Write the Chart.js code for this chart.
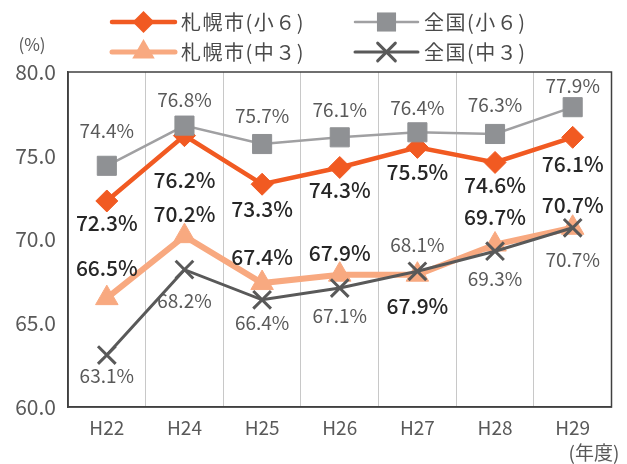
<!DOCTYPE html>
<html>
<head>
<meta charset="utf-8">
<script src="https://cdn.jsdelivr.net/npm/chart.js"></script>
<style>
  html, body { margin: 0; padding: 0; background: #fff; }
  #wrap { width: 627px; height: 464px; position: relative; }
</style>
</head>
<body>
<div id="wrap"><canvas id="chart"></canvas></div>
<script>
const years = ['H22', 'H24', 'H25', 'H26', 'H27', 'H28', 'H29'];
const sapporoShou6 = [72.3, 76.2, 73.3, 74.3, 75.5, 74.6, 76.1];
const zenkokuShou6 = [74.4, 76.8, 75.7, 76.1, 76.4, 76.3, 77.9];
const sapporoChu3 = [66.5, 70.2, 67.4, 67.9, 67.9, 69.7, 70.7];
const zenkokuChu3 = [63.1, 68.2, 66.4, 67.1, 68.1, 69.3, 70.7];

const FONT = "'Noto Sans CJK JP', 'Noto Sans', sans-serif";

// marker drawing for legend (same shapes as the chart)
function drawMarker(ctx, style, x, y, r, color, lw) {
    ctx.save();
    ctx.fillStyle = color;
    ctx.strokeStyle = color;
    ctx.lineWidth = lw;
    ctx.beginPath();
    if (style === 'rectRot') {
        ctx.moveTo(x, y - r); ctx.lineTo(x + r, y); ctx.lineTo(x, y + r); ctx.lineTo(x - r, y);
        ctx.closePath(); ctx.fill();
    } else if (style === 'rect') {
        const s = r * Math.SQRT1_2;
        ctx.rect(x - s, y - s, 2 * s, 2 * s); ctx.fill();
    } else if (style === 'triangle') {
        for (let k = 0; k < 3; k++) {
            const a = k * 2 * Math.PI / 3;
            const px = x + Math.sin(a) * r, py = y - Math.cos(a) * r;
            k === 0 ? ctx.moveTo(px, py) : ctx.lineTo(px, py);
        }
        ctx.closePath(); ctx.fill();
    } else if (style === 'crossRot') {
        const d = r * Math.SQRT1_2;
        ctx.moveTo(x - d, y - d); ctx.lineTo(x + d, y + d);
        ctx.moveTo(x - d, y + d); ctx.lineTo(x + d, y - d);
        ctx.stroke();
    }
    ctx.restore();
}

// legend in a 2x2 grid, axis captions and the outer frame
const decorations = {
    id: 'decorations',
    afterDraw(chart) {
        const ctx = chart.ctx;
        const area = chart.chartArea;
        ctx.save();
        ctx.strokeStyle = '#404040';
        ctx.lineWidth = 1.5;
        ctx.strokeRect(area.left, area.top, area.right - area.left, area.bottom - area.top);

        ctx.fillStyle = '#595959';
        ctx.font = '17px ' + FONT;
        ctx.textAlign = 'center';
        ctx.textBaseline = 'middle';
        ctx.fillText('(%)', 32, 45);
        ctx.font = '19px ' + FONT;
        ctx.fillText('(年度)', 594, 453);

        const cols = [112, 355];
        const rows = [22, 52];
        chart.data.datasets.forEach((ds, i) => {
            const x0 = cols[i % 2], y = rows[Math.floor(i / 2)];
            const x1 = x0 + 63;
            ctx.strokeStyle = ds.borderColor;
            ctx.lineWidth = Math.min(ds.borderWidth, 5);
            ctx.lineCap = 'round';
            ctx.beginPath(); ctx.moveTo(x0, y); ctx.lineTo(x1, y); ctx.stroke();
            drawMarker(ctx, ds.pointStyle, (x0 + x1) / 2, y, ds.pointRadius, ds.pointBackgroundColor, ds.pointBorderWidth);
            ctx.fillStyle = '#4a4a4a';
            ctx.font = '20px ' + FONT;
            ctx.letterSpacing = '1.5px';
            ctx.textAlign = 'left';
            ctx.fillText(ds.label, x1 + 6, y);
            ctx.letterSpacing = '0px';
        });
        ctx.restore();
    }
};

// value labels with per-point vertical nudges
const valueLabels = {
    id: 'valueLabels',
    afterDatasetsDraw(chart) {
        const ctx = chart.ctx;
        ctx.save();
        ctx.textAlign = 'center';
        ctx.textBaseline = 'middle';
        chart.data.datasets.forEach((ds, i) => {
            const meta = chart.getDatasetMeta(i);
            ctx.font = ds.labelFont;
            ctx.fillStyle = ds.labelColor;
            meta.data.forEach((pt, j) => {
                ctx.fillText(ds.data[j].toFixed(1) + '%', pt.x, pt.y + ds.labelDy[j]);
            });
        });
        ctx.restore();
    }
};

const chart = new Chart(document.getElementById('chart'), {
    type: 'line',
    data: {
        labels: years,
        datasets: [
            {
                label: '札幌市(小６)',
                data: sapporoShou6,
                borderColor: '#f15a22',
                borderWidth: 4.5,
                pointStyle: 'rectRot',
                pointRadius: 11,
                pointHoverRadius: 11,
                pointBackgroundColor: '#f15a22',
                pointBorderColor: '#f15a22',
                pointBorderWidth: 1,
                order: 1,
                labelFont: '500 21px ' + FONT,
                labelColor: '#262626',
                labelDy: [22, 44, 25, 23, 25, 23, 27],
            },
            {
                label: '全国(小６)',
                data: zenkokuShou6,
                borderColor: '#a0a0a2',
                borderWidth: 2.5,
                pointStyle: 'rect',
                pointRadius: 13.5,
                pointHoverRadius: 13.5,
                pointBackgroundColor: '#8f9194',
                pointBorderColor: '#8f9194',
                pointBorderWidth: 1,
                order: 0,
                labelFont: '19px ' + FONT,
                labelColor: '#595959',
                labelDy: [-35, -26, -28, -28, -25, -29, -21],
            },
            {
                label: '札幌市(中３)',
                data: sapporoChu3,
                borderColor: '#f8a980',
                borderWidth: 6,
                pointStyle: 'triangle',
                pointRadius: 13,
                pointHoverRadius: 13,
                pointBackgroundColor: '#f8a980',
                pointBorderColor: '#f8a980',
                pointBorderWidth: 1,
                order: 1,
                labelFont: '500 21px ' + FONT,
                labelColor: '#262626',
                labelDy: [-30, -22, -26, -22, 31, -28, -23],
            },
            {
                label: '全国(中３)',
                data: zenkokuChu3,
                borderColor: '#595959',
                borderWidth: 3,
                pointStyle: 'crossRot',
                pointRadius: 12.5,
                pointHoverRadius: 12.5,
                pointBackgroundColor: '#595959',
                pointBorderColor: '#595959',
                pointBorderWidth: 3,
                order: 0,
                labelFont: '19px ' + FONT,
                labelColor: '#595959',
                labelDy: [21, 31, 23, 28, -27, 28, 32],
            },
        ],
    },
    options: {
        responsive: true,
        maintainAspectRatio: false,
        animation: false,
        layout: { padding: { top: 72, right: 15, left: 0, bottom: 0 } },
        plugins: {
            legend: { display: false },
            tooltip: { enabled: false },
        },
        scales: {
            x: {
                offset: true,
                afterFit(scale) { scale.height = 57; },
                grid: { offset: true, color: '#c8c8c8', lineWidth: 1, drawTicks: false },
                border: { color: '#404040', width: 1.5 },
                ticks: { color: '#595959', font: { family: FONT, size: 19 }, padding: 9 },
            },
            y: {
                min: 60,
                max: 80,
                afterFit(scale) { scale.width = 68; },
                grid: { display: false, drawTicks: false },
                border: { color: '#404040', width: 1.5 },
                ticks: {
                    stepSize: 5,
                    color: '#595959',
                    font: { family: FONT, size: 21 },
                    padding: 12,
                    callback: (v) => v.toFixed(1),
                },
            },
        },
    },
    plugins: [valueLabels, decorations],
});
</script>
</body>
</html>
